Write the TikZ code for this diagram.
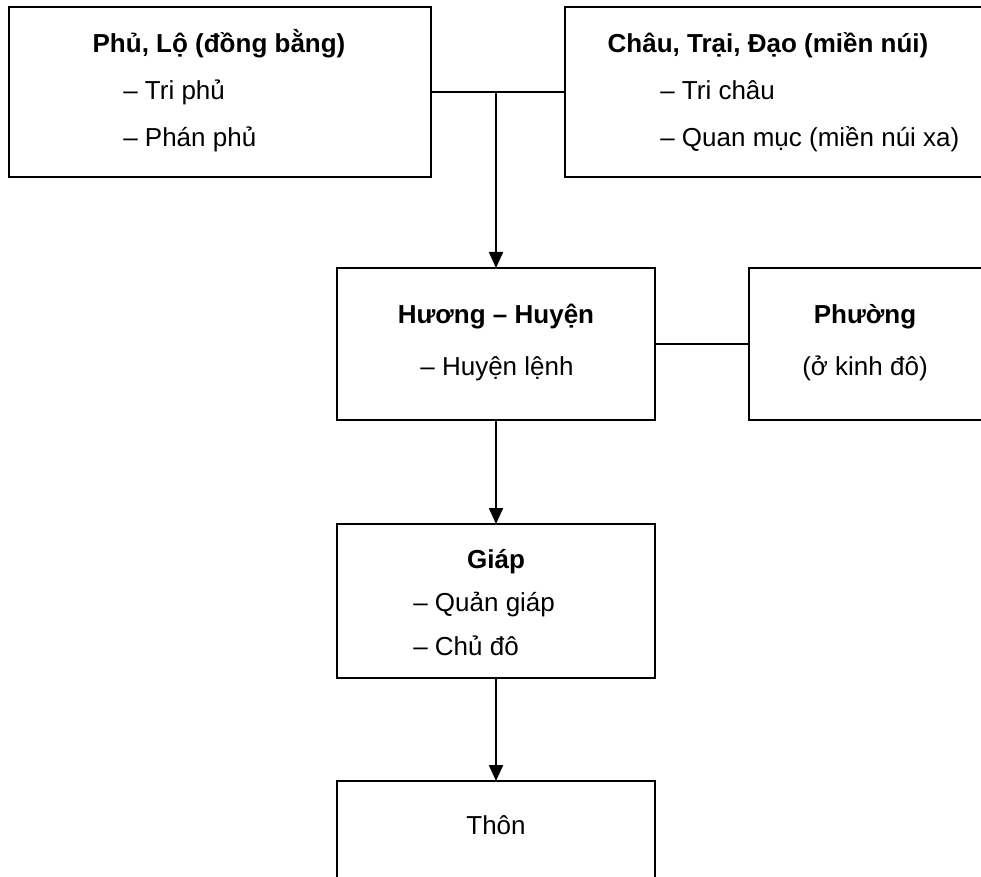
\documentclass[tikz,border=0pt]{standalone}
\usepackage{fontspec}
\setmainfont{Liberation Sans}
\usepackage{tikz}
\usetikzlibrary{arrows.meta, positioning, calc}

\begin{document}
\begin{tikzpicture}[x=0.75pt, y=-0.75pt,
        every node/.style = {font=\fontsize{19.5}{23}\selectfont},
        box/.style = {draw, rectangle, line width=1.4pt, inner sep=0pt, outer sep=0pt},
        head/.style = {anchor=base, font=\fontsize{19.5}{23}\selectfont\bfseries},
        item/.style = {anchor=base west, inner sep=0pt},
        plain/.style = {anchor=base},
        link/.style = {line width=1.3pt},
        arrow/.style = {line width=1.6pt, -{Triangle[length=12pt, width=10.5pt]}}]
        \clip (0, 0) rectangle (981, 877);

        % boxes
        \node[box, minimum width=316.5pt, minimum height=127.5pt] (Nphu) at (220, 92) {};
        \node[box, minimum width=318.75pt, minimum height=127.5pt] (Nchau) at (777.5, 92) {};
        \node[box, minimum width=238.5pt, minimum height=114pt] (Nhuong) at (496, 344) {};
        \node[box, minimum width=176.25pt, minimum height=114pt] (Nphuong) at (866.5, 344) {};
        \node[box, minimum width=238.5pt, minimum height=115.5pt] (Ngiap) at (496, 601) {};
        \node[box, minimum width=238.5pt, minimum height=115.5pt] (Nthon) at (496, 858) {};

        % texts
        \node[head] (Tphu) at (219, 53) {Phủ, Lộ (đồng bằng)};
        \node[item] (Tphua) at (123, 100) {– Tri phủ};
        \node[item] (Tphub) at (123, 147) {– Phán phủ};

        \node[head] (Tchau) at (768, 53) {Châu, Trại, Đạo (miền núi)};
        \node[item] (Tchaua) at (660, 100) {– Tri châu};
        \node[item] (Tchaub) at (660, 147) {– Quan mục (miền núi xa)};

        \node[head] (Thuong) at (496, 323) {Hương – Huyện};
        \node[plain] (Thuonga) at (497, 375) {– Huyện lệnh};

        \node[head] (Tphuong) at (865, 323) {Phường};
        \node[plain] (Tphuonga) at (865, 375) {(ở kinh đô)};

        \node[head] (Tgiap) at (496, 568) {Giáp};
        \node[item] (Tgiapa) at (413, 611) {– Quản giáp};
        \node[item] (Tgiapb) at (413, 655) {– Chủ đô};

        \node[plain] (Tthon) at (496, 834) {Thôn};

        % connectors
        \coordinate (Jtop) at (Nphu.east -| Nhuong.north);
        \draw[link] (Nphu.east) -- (Nchau.west);
        \draw[arrow] (Jtop) -- (Nhuong.north);
        \draw[link] (Nhuong.east) -- (Nphuong.west);
        \draw[arrow] (Nhuong.south) -- (Ngiap.north);
        \draw[arrow] (Ngiap.south) -- (Nthon.north);
    \end{tikzpicture}
\end{document}
